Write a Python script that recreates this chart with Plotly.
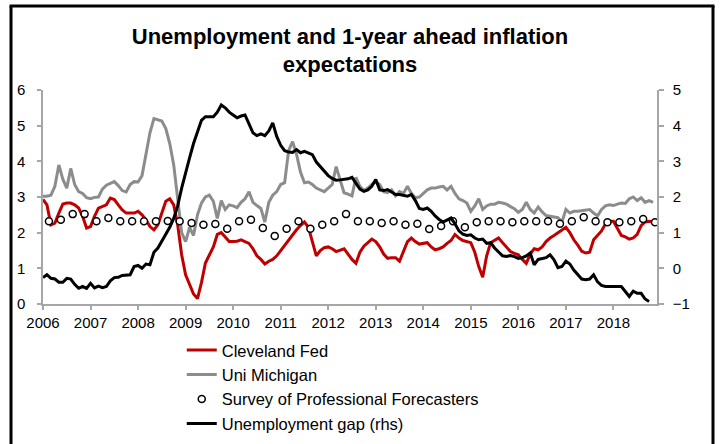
import plotly.graph_objects as go

# ---------------- data ----------------
start_year = 2006  # monthly series start in Jan 2006

# Cleveland Fed 1-year ahead inflation expectations (%), monthly
cleveland = [
    2.93, 2.78, 2.22, 2.27, 2.55, 2.80, 2.83, 2.83, 2.78, 2.69, 2.46, 2.13,
    2.17, 2.46, 2.69, 2.74, 2.78, 2.97, 2.93, 2.78, 2.64, 2.55, 2.55, 2.55,
    2.60, 2.50, 2.36, 2.17, 2.08, 2.22, 2.55, 2.88, 2.95, 2.78, 2.22, 1.38,
    0.82, 0.52, 0.28, 0.15, 0.60, 1.15, 1.40, 1.60, 1.95, 2.00, 1.88, 1.75,
    1.75, 1.76, 1.80, 1.75, 1.70, 1.55, 1.35, 1.25, 1.12, 1.20, 1.25, 1.35,
    1.50, 1.65, 1.80, 1.95, 2.08, 2.20, 2.30, 2.15, 1.75, 1.35, 1.50, 1.58,
    1.60, 1.55, 1.47, 1.50, 1.55, 1.40, 1.25, 1.14, 1.45, 1.62, 1.72, 1.82,
    1.75, 1.60, 1.40, 1.28, 1.30, 1.30, 1.20, 1.45, 1.75, 1.85, 1.75, 1.68,
    1.70, 1.72, 1.60, 1.52, 1.55, 1.60, 1.70, 1.78, 1.95, 1.85, 1.78, 1.75,
    1.72, 1.45, 1.05, 0.75, 1.35, 1.72, 1.78, 1.85, 1.72, 1.60, 1.47, 1.42,
    1.38, 1.25, 1.14, 1.40, 1.55, 1.52, 1.60, 1.75, 1.85, 1.92, 2.00, 2.08,
    2.15, 2.00, 1.80, 1.65, 1.48, 1.43, 1.45, 1.80, 1.92, 2.05, 2.25, 2.32,
    2.32, 2.10, 1.92, 1.88, 1.82, 1.85, 1.95, 2.20, 2.30, 2.32, 2.30,
]

# University of Michigan 1-year ahead inflation expectations (%), monthly
michigan = [
    3.02, 3.02, 3.05, 3.30, 3.90, 3.50, 3.25, 3.80, 3.35, 3.15, 3.10, 2.98,
    2.95, 2.99, 3.00, 3.22, 3.33, 3.37, 3.43, 3.32, 3.18, 3.14, 3.35, 3.43,
    3.42, 3.60, 4.20, 4.80, 5.20, 5.17, 5.13, 4.92, 4.50, 3.90, 3.00, 2.00,
    1.75, 2.15, 1.92, 2.50, 2.83, 3.00, 3.05, 2.88, 2.40, 2.90, 2.65, 2.78,
    2.75, 2.70, 2.85, 2.95, 3.15, 2.85, 2.76, 2.68, 2.30, 2.85, 3.05, 3.15,
    3.35, 3.40, 4.30, 4.55, 4.20, 3.70, 3.40, 3.42, 3.35, 3.25, 3.20, 3.15,
    3.25, 3.35, 3.85, 3.45, 3.12, 3.08, 3.03, 3.55, 3.30, 3.18, 3.25, 3.35,
    3.43, 3.35, 3.15, 3.12, 3.20, 3.03, 3.15, 3.10, 3.30, 3.10, 2.98, 3.00,
    3.10, 3.20, 3.25, 3.25, 3.28, 3.30, 3.20, 3.30, 3.10, 2.95, 2.90, 2.83,
    2.60, 2.75, 2.95, 2.65, 2.75, 2.80, 2.80, 2.85, 2.83, 2.80, 2.73, 2.67,
    2.57, 2.65, 2.85, 2.65, 2.55, 2.72, 2.58, 2.48, 2.46, 2.45, 2.42, 2.30,
    2.65, 2.55, 2.60, 2.60, 2.62, 2.62, 2.65, 2.55, 2.47, 2.65, 2.75, 2.78,
    2.76, 2.80, 2.83, 2.82, 2.95, 3.00, 2.90, 2.98, 2.85, 2.90, 2.85,
]

# Survey of Professional Forecasters (%), quarterly from 2006 Q1
spf = [
    2.32, 2.36, 2.52, 2.52, 2.32, 2.41, 2.32, 2.32, 2.32, 2.32, 2.33, 2.32,
    2.27, 2.22, 2.24, 2.11, 2.32, 2.36, 2.13, 1.91, 2.11, 2.32, 2.11, 2.22,
    2.32, 2.52, 2.32, 2.32, 2.27, 2.32, 2.22, 2.25, 2.10, 2.19, 2.32, 2.15,
    2.29, 2.32, 2.32, 2.29, 2.32, 2.32, 2.32, 2.25, 2.32, 2.43, 2.32, 2.29,
    2.29, 2.32, 2.38, 2.29,
]

# Unemployment gap (pp, right-hand scale), monthly
unemp_gap = [
    -0.26, -0.18, -0.28, -0.30, -0.39, -0.39, -0.28, -0.30, -0.45, -0.56, -0.51, -0.56,
    -0.42, -0.55, -0.50, -0.54, -0.51, -0.35, -0.26, -0.25, -0.20, -0.20, -0.18, 0.05,
    0.08, 0.00, 0.12, 0.10, 0.45, 0.57, 0.75, 0.95, 1.15, 1.40, 1.75, 2.25,
    2.70, 3.10, 3.50, 3.85, 4.15, 4.25, 4.25, 4.25, 4.38, 4.58, 4.50, 4.38,
    4.30, 4.22, 4.27, 4.30, 4.05, 3.80, 3.72, 3.77, 3.72, 3.85, 4.08, 3.70,
    3.45, 3.30, 3.26, 3.25, 3.33, 3.24, 3.28, 3.24, 3.19, 2.98, 2.85, 2.72,
    2.60, 2.52, 2.47, 2.48, 2.49, 2.51, 2.55, 2.40, 2.22, 2.16, 2.20, 2.30,
    2.49, 2.20, 2.18, 2.21, 2.15, 2.07, 2.07, 2.05, 2.02, 2.07, 1.90, 1.68,
    1.65, 1.69, 1.60, 1.47, 1.37, 1.30, 1.36, 1.41, 1.25, 1.05, 0.96, 0.92,
    0.94, 0.85, 0.80, 0.82, 0.70, 0.72, 0.57, 0.45, 0.35, 0.33, 0.36, 0.33,
    0.28, 0.30, 0.35, 0.43, 0.10, 0.25, 0.28, 0.30, 0.38, 0.24, 0.02, 0.05,
    0.20, 0.12, -0.05, -0.18, -0.30, -0.32, -0.30, -0.18, -0.38, -0.48, -0.51, -0.51,
    -0.51, -0.51, -0.51, -0.65, -0.79, -0.64, -0.70, -0.70, -0.86, -0.93,
]

year_ticks = list(range(2006, 2019))
year_labels = [str(y) for y in year_ticks]
axis_end_months = 155  # axis runs Jan 2006 .. Dec 2018

# x positions (decimal years): monthly points and quarterly mid-points
x_month = [start_year + i / 12 for i in range(len(cleveland))]
x_gap = [start_year + i / 12 for i in range(len(unemp_gap))]
x_quarter = [start_year + (3 * k + 1.5) / 12 for k in range(len(spf))]

FONT = "Liberation Sans, Arial, sans-serif"
AXIS_GREY = "#A6A6A6"

fig = go.Figure()
fig.add_trace(go.Scatter(
    x=x_month, y=cleveland, name="Cleveland Fed", mode="lines",
    line=dict(color="#C00000", width=3)))
fig.add_trace(go.Scatter(
    x=x_month, y=michigan, name="Uni Michigan", mode="lines",
    line=dict(color="#8C8C8C", width=3)))
fig.add_trace(go.Scatter(
    x=x_quarter, y=spf, name="Survey of Professional Forecasters", mode="markers",
    marker=dict(symbol="circle", size=7, color="white",
                line=dict(color="black", width=1.5))))
fig.add_trace(go.Scatter(
    x=x_gap, y=unemp_gap, name="Unemployment gap (rhs)", mode="lines",
    yaxis="y2", line=dict(color="black", width=3)))

axis_common = dict(showline=True, linecolor=AXIS_GREY, linewidth=1.5,
                   ticks="outside", tickcolor=AXIS_GREY, tickwidth=1.5,
                   showgrid=False, zeroline=False,
                   tickfont=dict(family=FONT, size=15, color="black"))

fig.update_layout(
    width=720, height=444,
    margin=dict(l=43, r=63, t=90, b=140, autoexpand=False),
    paper_bgcolor="white", plot_bgcolor="white",
    font=dict(family=FONT, size=15, color="black"),
    title=dict(text="<b>Unemployment and 1-year ahead inflation<br>expectations</b>",
               x=0.5, xref="paper", xanchor="center",
               y=0.902, yref="container", yanchor="top",
               font=dict(family=FONT, size=22, color="black")),
    xaxis=dict(range=[start_year, start_year + axis_end_months / 12],
               tickvals=year_ticks, ticktext=year_labels, ticklen=4,
               ticklabelstandoff=0, **axis_common),
    yaxis=dict(range=[0, 6], dtick=1, ticklen=4, ticklabelstandoff=9,
               **axis_common),
    yaxis2=dict(range=[-1, 5], dtick=1, overlaying="y", side="right",
                ticklen=5, ticklabelstandoff=6, **axis_common),
    showlegend=True,
    legend=dict(x=0.226, y=-0.135, xanchor="left", yanchor="top",
                bgcolor="rgba(0,0,0,0)", borderwidth=0,
                font=dict(family=FONT, size=16.5, color="black"),
                itemwidth=30, tracegroupgap=0),
)

# chart-area border (top, left, right edges; bottom lies below the window)
border_left, border_right = -0.0521, 1.0912
border_top, border_bottom = 1.392, -0.75
for x0, y0, x1, y1 in [
    (border_left, border_bottom, border_left, border_top),
    (border_right, border_bottom, border_right, border_top),
]:
    fig.add_shape(type="line", xref="paper", yref="paper",
                  x0=x0, y0=y0, x1=x1, y1=y1,
                  line=dict(color="black", width=3), layer="above")
fig.add_shape(type="rect", xref="paper", yref="paper",
              x0=border_left - 0.0024, x1=border_right + 0.0024,
              y0=border_top - 0.007, y1=border_top + 0.007,
              line=dict(width=0), fillcolor="black", layer="above")
# top edge also as a thin black bar annotation
fig.add_annotation(text="&nbsp;", xref="paper", yref="paper",
                   x=(border_left + border_right) / 2, y=border_top,
                   xanchor="center", yanchor="middle", showarrow=False,
                   width=704, height=2, borderpad=0, borderwidth=0,
                   bgcolor="black", font=dict(size=1, color="black"))

# remove the browser's default page margin so the figure sits at (0, 0)
fig.write_html("out.html", config={"displayModeBar": False},
               post_script="document.body.style.margin='0';")
